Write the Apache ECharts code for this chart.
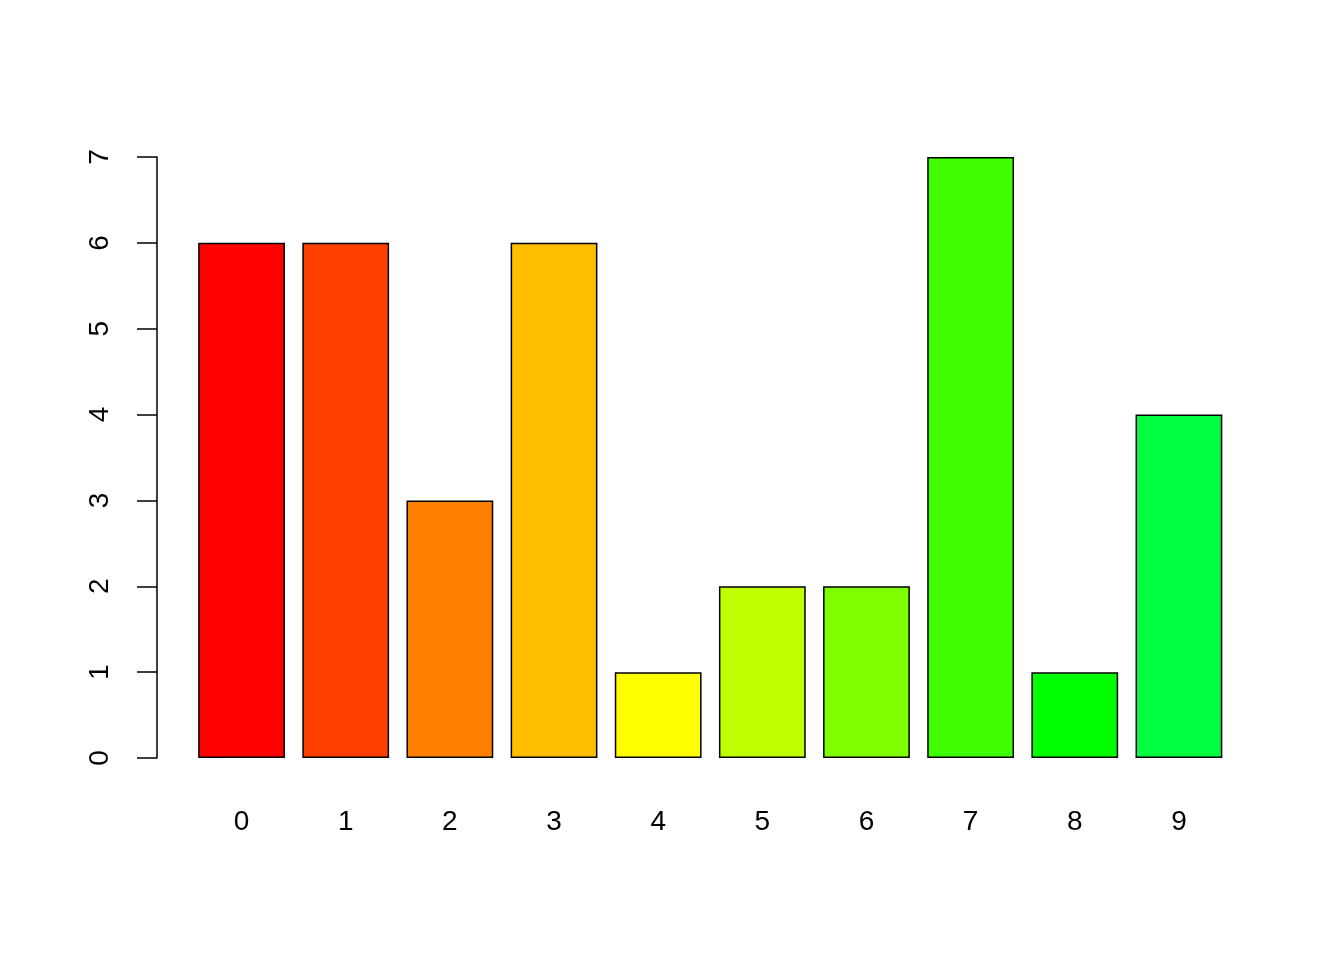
<!DOCTYPE html>
<html>
<head>
<meta charset="utf-8">
<script src="https://cdn.jsdelivr.net/npm/echarts@6/dist/echarts.min.js"></script>
<style>html,body{margin:0;padding:0;background:#fff;}#c{width:1344px;height:960px;}</style>
</head>
<body>
<div id="c"></div>
<script>
const categories = ['0','1','2','3','4','5','6','7','8','9'];
const values = [6, 6, 3, 6, 1, 2, 2, 7, 1, 4];
const colors = ['#FF0000','#FF4000','#FF8000','#FFBF00','#FFFF00','#BFFF00','#80FF00','#40FF00','#00FF00','#00FF40'];
const yTicks = [0,1,2,3,4,5,6,7];

const chart = echarts.init(document.getElementById('c'), null, {renderer:'canvas'});
const font = 'Liberation Sans, Arial, Helvetica, sans-serif';
chart.setOption({
  animation: false,
  backgroundColor: '#fff',
  grid: {left: 189.5, right: 113, top: 157, bottom: 202, containLabel: false},
  xAxis: {
    type: 'category',
    data: categories,
    boundaryGap: true,
    axisLine: {show: false},
    axisTick: {show: false},
    axisLabel: {show: true, margin: 50, fontSize: 28, color: '#000', fontFamily: font}
  },
  yAxis: {
    type: 'value',
    min: 0, max: 7, interval: 1,
    offset: 32.5,
    splitLine: {show: false},
    axisLine: {show: true, lineStyle: {color: '#000', width: 1.5}},
    axisTick: {show: true, length: 20, lineStyle: {color: '#000', width: 1.5}},
    axisLabel: {show: true, rotate: 90, margin: 43, fontSize: 28, color: '#000', fontFamily: font,
      formatter: v => String(yTicks[yTicks.indexOf(v)])}
  },
  series: [{
    type: 'bar',
    data: values.map((v, i) => ({value: v, itemStyle: {color: colors[i]}})),
    barCategoryGap: '16.667%',
    itemStyle: {borderColor: '#000', borderWidth: 1.5}
  }]
});
</script>
</body>
</html>
